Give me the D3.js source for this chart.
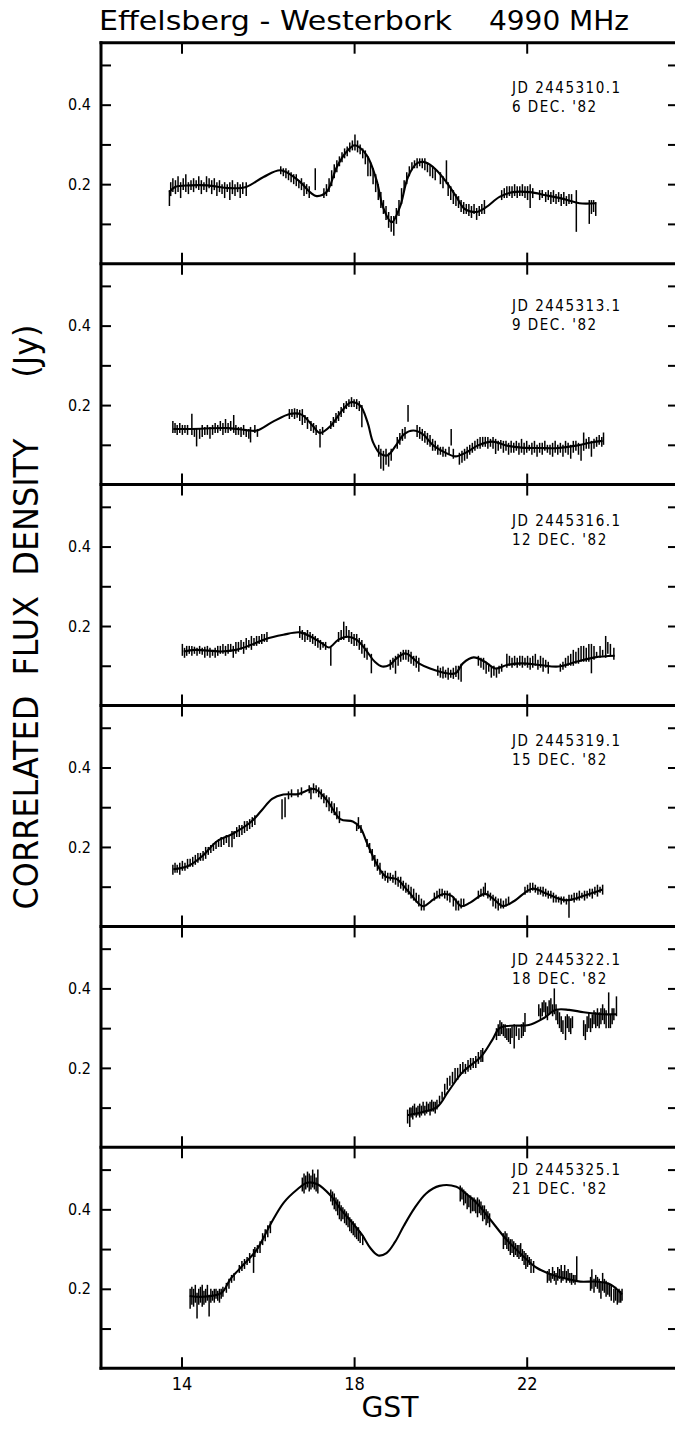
<!DOCTYPE html>
<html>
<head>
<meta charset="utf-8">
<script src="https://d3js.org/d3.v7.min.js"></script>
<style>
body { margin: 0; background: #fff; }
text { fill: #000; }
</style>
</head>
<body>
<div id="chart"></div>
<script>
// tick values
var hourTicks = [14, 18, 22];
var fluxTicks = [0.1, 0.2, 0.3, 0.4, 0.5];
var fluxLabels = [0.2, 0.4];

// panel captions
var julianDays = ["JD 2445310.1", "JD 2445313.1", "JD 2445316.1", "JD 2445319.1", "JD 2445322.1", "JD 2445325.1"];
var dates = ["6 DEC. '82", "9 DEC. '82", "12 DEC. '82", "15 DEC. '82", "18 DEC. '82", "21 DEC. '82"];

// smooth model curves  [GST hour, Jy]
var model1 = [[13.72,0.18],[13.85,0.193],[14.2,0.197],[14.6,0.197],[15.1,0.19],[15.5,0.193],[15.9,0.218],[16.3,0.235],[16.7,0.21],[17.0,0.178],[17.13,0.17],[17.36,0.18],[17.6,0.243],[17.82,0.281],[18.02,0.298],[18.29,0.273],[18.52,0.21],[18.67,0.142],[18.87,0.104],[19.06,0.142],[19.25,0.218],[19.45,0.252],[19.6,0.256],[19.75,0.25],[19.91,0.235],[20.14,0.205],[20.37,0.168],[20.56,0.138],[20.83,0.13],[21.06,0.142],[21.37,0.168],[21.68,0.18],[22.07,0.18],[22.45,0.172],[22.92,0.161],[23.22,0.152],[23.61,0.152]];
var model2 = [[13.81,0.14],[14.24,0.14],[15.09,0.142],[15.5,0.137],[15.75,0.136],[16.1,0.157],[16.53,0.178],[16.78,0.176],[17.04,0.148],[17.21,0.13],[17.46,0.148],[17.72,0.186],[17.93,0.207],[18.14,0.199],[18.31,0.157],[18.44,0.106],[18.61,0.077],[18.78,0.074],[18.99,0.102],[19.16,0.127],[19.37,0.136],[19.59,0.127],[19.84,0.098],[20.1,0.081],[20.35,0.071],[20.6,0.081],[20.86,0.098],[21.2,0.108],[21.54,0.098],[21.88,0.093],[22.3,0.092],[22.73,0.092],[23.15,0.098],[23.49,0.106],[23.76,0.11]];
var model3 = [[14.05,0.136],[14.32,0.14],[14.92,0.136],[15.26,0.14],[15.6,0.152],[15.94,0.167],[16.36,0.178],[16.74,0.184],[17.0,0.173],[17.25,0.157],[17.42,0.146],[17.63,0.165],[17.85,0.173],[18.06,0.165],[18.27,0.14],[18.48,0.11],[18.65,0.098],[18.82,0.102],[18.99,0.119],[19.2,0.131],[19.5,0.106],[19.76,0.093],[20.1,0.082],[20.35,0.081],[20.52,0.106],[20.77,0.121],[21.03,0.11],[21.28,0.093],[21.54,0.102],[21.88,0.106],[22.3,0.102],[22.73,0.098],[23.15,0.11],[23.58,0.121],[24.04,0.125]];
var model4 = [[13.81,0.144],[14.15,0.152],[14.49,0.178],[14.83,0.215],[15.17,0.232],[15.6,0.262],[15.85,0.291],[16.1,0.321],[16.36,0.332],[16.7,0.333],[17.08,0.346],[17.38,0.316],[17.68,0.27],[17.97,0.264],[18.14,0.249],[18.31,0.207],[18.57,0.148],[18.74,0.125],[18.99,0.119],[19.25,0.089],[19.59,0.051],[19.84,0.068],[20.05,0.081],[20.26,0.077],[20.48,0.051],[20.69,0.06],[21.03,0.082],[21.24,0.068],[21.45,0.051],[21.71,0.064],[22.13,0.095],[22.47,0.082],[22.9,0.066],[23.32,0.077],[23.76,0.093]];
var model5 = [[19.23,0.081],[19.59,0.089],[19.93,0.102],[20.18,0.14],[20.52,0.19],[20.94,0.228],[21.2,0.27],[21.37,0.3],[21.62,0.306],[22.05,0.308],[22.39,0.325],[22.68,0.346],[22.98,0.346],[23.32,0.34],[23.75,0.335],[24.07,0.335]];
var model6 = [[14.19,0.182],[14.5,0.18],[14.93,0.19],[15.13,0.224],[15.44,0.261],[15.75,0.299],[16.06,0.362],[16.37,0.417],[16.68,0.45],[16.91,0.467],[17.15,0.463],[17.46,0.434],[17.69,0.4],[17.92,0.371],[18.19,0.335],[18.38,0.302],[18.56,0.284],[18.75,0.29],[18.95,0.318],[19.15,0.358],[19.4,0.403],[19.67,0.44],[19.98,0.459],[20.37,0.457],[20.52,0.446],[20.83,0.417],[21.15,0.375],[21.53,0.324],[21.92,0.282],[22.23,0.253],[22.62,0.234],[22.93,0.225],[23.24,0.218],[23.63,0.218],[23.94,0.211],[24.21,0.186]];

// measured points as error bars  [GST hour, low Jy, high Jy]
var obs1 = [[13.72,0.145,0.185],[13.75,0.17,0.205],[13.8,0.18,0.215],[13.86,0.175,0.21],[13.92,0.18,0.22],[13.98,0.165,0.205],[14.04,0.185,0.215],[14.1,0.18,0.225],[14.16,0.175,0.205],[14.22,0.185,0.21],[14.28,0.18,0.215],[14.34,0.19,0.21],[14.4,0.185,0.22],[14.46,0.175,0.21],[14.52,0.185,0.205],[14.58,0.18,0.22],[14.64,0.19,0.215],[14.7,0.175,0.21],[14.76,0.185,0.215],[14.82,0.17,0.205],[14.88,0.18,0.21],[14.94,0.175,0.2],[15.0,0.165,0.205],[15.06,0.18,0.2],[15.12,0.16,0.205],[15.18,0.175,0.21],[15.24,0.17,0.2],[15.3,0.18,0.205],[15.36,0.165,0.2],[15.42,0.175,0.205],[15.5,0.17,0.205],
  [16.3,0.225,0.245],[16.36,0.22,0.24],[16.42,0.215,0.24],[16.48,0.21,0.235],[16.54,0.205,0.23],[16.6,0.2,0.225],[16.66,0.195,0.225],[16.72,0.19,0.21],[16.78,0.185,0.215],[16.84,0.17,0.205],[16.9,0.175,0.2],[16.96,0.165,0.195],[17.1,0.185,0.24],
  [17.3,0.165,0.19],[17.36,0.17,0.2],[17.42,0.18,0.215],[17.48,0.195,0.235],[17.54,0.215,0.25],[17.6,0.23,0.26],[17.66,0.245,0.27],[17.72,0.255,0.28],[17.78,0.265,0.29],[17.84,0.27,0.295],[17.9,0.28,0.305],[17.96,0.285,0.31],[18.02,0.285,0.325],[18.08,0.28,0.31],[18.14,0.275,0.3],[18.2,0.265,0.29],[18.26,0.25,0.285],[18.32,0.22,0.27],[18.38,0.22,0.255],[18.44,0.2,0.24],[18.5,0.18,0.225],[18.56,0.16,0.2],[18.62,0.14,0.18],[18.68,0.125,0.16],[18.74,0.11,0.145],[18.8,0.09,0.13],[18.86,0.08,0.12],[18.92,0.07,0.12],
  [18.98,0.1,0.14],[19.04,0.12,0.16],[19.1,0.15,0.19],[19.16,0.18,0.21],[19.22,0.2,0.23],[19.28,0.22,0.245],[19.34,0.235,0.255],[19.4,0.24,0.26],[19.46,0.24,0.265],[19.52,0.245,0.265],[19.58,0.24,0.265],[19.64,0.235,0.265],[19.7,0.23,0.255],[19.76,0.22,0.25],[19.82,0.215,0.245],[19.88,0.21,0.24],[20.0,0.2,0.23],[20.06,0.19,0.22],[20.14,0.2,0.26],[20.18,0.17,0.205],[20.24,0.16,0.195],[20.3,0.15,0.185],[20.36,0.145,0.175],[20.42,0.14,0.17],[20.48,0.13,0.16],[20.54,0.125,0.155],[20.6,0.125,0.15],[20.66,0.12,0.15],[20.72,0.115,0.145],[20.78,0.125,0.15],[20.84,0.11,0.14],[20.9,0.12,0.145],[20.96,0.125,0.15],[21.02,0.125,0.16],
  [21.42,0.16,0.185],[21.48,0.165,0.19],[21.54,0.165,0.195],[21.6,0.17,0.195],[21.66,0.165,0.195],[21.72,0.17,0.2],[21.78,0.165,0.195],[21.84,0.17,0.195],[21.9,0.17,0.2],[21.96,0.165,0.195],[22.02,0.16,0.195],[22.08,0.14,0.2],[22.14,0.165,0.19],[22.3,0.16,0.185],[22.36,0.165,0.185],[22.44,0.155,0.18],[22.5,0.16,0.185],[22.56,0.15,0.18],[22.62,0.155,0.185],[22.68,0.15,0.175],[22.74,0.155,0.18],[22.8,0.145,0.175],[22.86,0.15,0.18],[22.92,0.145,0.17],[22.98,0.15,0.175],[23.04,0.15,0.175],[23.15,0.08,0.185],
  [23.45,0.1,0.16],[23.5,0.125,0.16],[23.55,0.13,0.16],[23.6,0.12,0.155]];
var obs2 = [[13.8,0.13,0.16],[13.85,0.13,0.155],[13.9,0.125,0.15],[13.96,0.13,0.155],[14.02,0.125,0.15],[14.08,0.13,0.15],[14.14,0.125,0.15],[14.24,0.125,0.178],[14.3,0.12,0.14],[14.35,0.096,0.14],[14.42,0.115,0.14],[14.48,0.12,0.15],[14.54,0.125,0.145],[14.6,0.125,0.15],[14.66,0.115,0.145],[14.72,0.125,0.15],[14.78,0.13,0.155],[14.84,0.13,0.15],[14.9,0.135,0.16],[14.96,0.125,0.155],[15.02,0.13,0.165],[15.08,0.13,0.155],[15.14,0.135,0.16],[15.21,0.13,0.175],[15.26,0.125,0.15],[15.32,0.125,0.145],[15.38,0.12,0.145],[15.44,0.125,0.15],[15.5,0.12,0.14],[15.56,0.115,0.14],[15.6,0.106,0.145],[15.7,0.13,0.15],[15.76,0.12,0.14],
  [16.5,0.165,0.19],[16.56,0.17,0.19],[16.62,0.165,0.192],[16.68,0.168,0.19],[16.74,0.16,0.188],[16.8,0.15,0.19],[16.86,0.155,0.175],[16.92,0.14,0.17],
  [17.0,0.135,0.16],[17.06,0.13,0.155],[17.12,0.125,0.15],[17.21,0.093,0.14],[17.27,0.125,0.145],
  [17.46,0.14,0.16],[17.52,0.145,0.17],[17.58,0.155,0.18],[17.64,0.16,0.185],[17.7,0.17,0.195],[17.76,0.18,0.205],[17.82,0.19,0.21],[17.88,0.195,0.215],[17.94,0.195,0.22],[18.0,0.195,0.215],[18.06,0.19,0.215],[18.12,0.185,0.21],[18.18,0.144,0.2],
  [18.57,0.07,0.1],[18.62,0.04,0.09],[18.68,0.035,0.085],[18.74,0.05,0.09],[18.8,0.045,0.08],[18.86,0.06,0.09],
  [19.0,0.09,0.12],[19.06,0.1,0.13],[19.12,0.11,0.14],[19.18,0.115,0.145],[19.25,0.158,0.2],
  [19.46,0.12,0.15],[19.52,0.115,0.145],[19.58,0.11,0.14],[19.64,0.105,0.135],[19.7,0.1,0.13],[19.76,0.095,0.125],[19.82,0.085,0.115],[19.88,0.085,0.11],[19.94,0.075,0.1],[20.0,0.075,0.095],[20.06,0.07,0.095],[20.12,0.07,0.09],[20.2,0.075,0.095],[20.25,0.098,0.14],[20.3,0.065,0.09],[20.44,0.05,0.08],[20.5,0.055,0.085],[20.56,0.06,0.09],[20.62,0.065,0.095],[20.68,0.075,0.1],[20.74,0.08,0.105],[20.8,0.085,0.11],[20.86,0.09,0.115],[20.92,0.09,0.12],[20.98,0.095,0.12],
  [21.04,0.095,0.12],[21.1,0.09,0.12],[21.16,0.095,0.115],[21.22,0.09,0.12],[21.28,0.077,0.115],[21.34,0.085,0.11],[21.4,0.09,0.112],[21.46,0.08,0.11],[21.52,0.085,0.11],[21.58,0.075,0.105],[21.64,0.08,0.11],[21.7,0.08,0.105],[21.76,0.085,0.11],[21.82,0.075,0.105],[21.88,0.08,0.115],[21.94,0.075,0.105],[22.0,0.08,0.11],[22.06,0.085,0.1],[22.12,0.075,0.105],[22.18,0.08,0.11],[22.24,0.07,0.1],[22.3,0.08,0.105],[22.36,0.075,0.105],[22.42,0.085,0.11],[22.48,0.08,0.1],[22.54,0.075,0.1],[22.6,0.07,0.105],[22.66,0.08,0.11],[22.72,0.075,0.1],[22.78,0.08,0.105],[22.84,0.07,0.1],[22.9,0.08,0.11],[22.96,0.075,0.105],[23.02,0.065,0.1],[23.08,0.08,0.11],[23.14,0.085,0.11],[23.2,0.075,0.105],[23.26,0.06,0.1],[23.32,0.085,0.131],[23.38,0.09,0.115],[23.44,0.09,0.12],[23.5,0.07,0.11],[23.56,0.09,0.115],[23.62,0.095,0.12],[23.68,0.1,0.125],[23.74,0.095,0.12],[23.78,0.1,0.131]];
var obs3 = [[14.02,0.125,0.155],[14.07,0.12,0.145],[14.12,0.125,0.15],[14.18,0.13,0.15],[14.24,0.125,0.15],[14.3,0.13,0.148],[14.36,0.125,0.145],[14.42,0.13,0.15],[14.48,0.128,0.145],[14.54,0.12,0.148],[14.6,0.125,0.15],[14.66,0.12,0.145],[14.72,0.125,0.14],[14.78,0.12,0.145],[14.84,0.125,0.15],[14.9,0.13,0.15],[14.96,0.13,0.155],[15.02,0.125,0.15],[15.08,0.13,0.155],[15.14,0.135,0.155],[15.2,0.12,0.15],[15.26,0.13,0.16],[15.32,0.135,0.16],[15.38,0.14,0.165],[15.44,0.13,0.16],[15.5,0.14,0.17],[15.56,0.145,0.165],[15.62,0.14,0.175],[15.68,0.15,0.17],[15.74,0.15,0.175],[15.8,0.155,0.175],[15.86,0.155,0.18],[15.92,0.16,0.18],[15.98,0.16,0.185],
  [16.74,0.17,0.2],[16.8,0.165,0.19],[16.86,0.16,0.185],[16.92,0.165,0.19],[16.98,0.16,0.185],[17.04,0.155,0.18],[17.1,0.15,0.175],[17.16,0.145,0.17],[17.22,0.14,0.165],[17.28,0.145,0.16],[17.34,0.14,0.16],[17.46,0.1,0.15],
  [17.64,0.16,0.185],[17.7,0.165,0.19],[17.76,0.165,0.211],[17.82,0.17,0.2],[17.88,0.16,0.19],[17.94,0.155,0.185],[18.0,0.15,0.18],[18.06,0.15,0.18],[18.12,0.14,0.17],[18.18,0.13,0.165],[18.24,0.12,0.155],[18.3,0.115,0.145],[18.4,0.081,0.13],
  [18.84,0.09,0.115],[18.9,0.095,0.12],[18.96,0.08,0.125],[19.02,0.1,0.13],[19.08,0.11,0.135],[19.14,0.115,0.14],[19.2,0.115,0.14],[19.26,0.11,0.14],[19.32,0.105,0.135],[19.38,0.1,0.125],[19.44,0.095,0.125],[19.5,0.085,0.12],
  [19.94,0.075,0.1],[20.0,0.07,0.095],[20.06,0.068,0.098],[20.12,0.07,0.09],[20.18,0.065,0.095],[20.24,0.07,0.09],[20.3,0.067,0.095],[20.36,0.072,0.1],[20.42,0.065,0.1],[20.48,0.06,0.105],
  [20.88,0.1,0.125],[20.94,0.095,0.12],[21.0,0.09,0.12],[21.06,0.08,0.11],[21.12,0.085,0.105],[21.18,0.07,0.1],[21.24,0.075,0.1],[21.3,0.07,0.095],[21.36,0.08,0.1],[21.42,0.085,0.105],
  [21.54,0.095,0.13],[21.6,0.1,0.125],[21.66,0.095,0.12],[21.72,0.1,0.125],[21.78,0.095,0.12],[21.84,0.1,0.125],[21.9,0.095,0.125],[21.96,0.1,0.12],[22.02,0.095,0.125],[22.08,0.09,0.12],[22.14,0.095,0.125],[22.2,0.1,0.13],[22.26,0.09,0.115],[22.32,0.095,0.125],[22.38,0.085,0.12],[22.44,0.095,0.115],[22.5,0.08,0.11],
  [22.78,0.085,0.105],[22.84,0.09,0.11],[22.9,0.095,0.12],[22.96,0.1,0.125],[23.02,0.1,0.13],[23.08,0.1,0.14],[23.14,0.105,0.135],[23.2,0.105,0.145],[23.26,0.11,0.15],[23.32,0.11,0.15],[23.38,0.11,0.145],[23.44,0.11,0.155],[23.5,0.081,0.155],[23.56,0.115,0.15],[23.62,0.12,0.135],[23.7,0.12,0.15],[23.76,0.125,0.14],[23.83,0.12,0.175],[23.88,0.13,0.16],[23.94,0.125,0.155],[24.02,0.115,0.145]];
var obs4 = [[13.8,0.13,0.155],[13.85,0.135,0.16],[13.9,0.135,0.155],[13.96,0.13,0.16],[14.02,0.14,0.165],[14.08,0.14,0.16],[14.14,0.145,0.17],[14.2,0.15,0.17],[14.26,0.15,0.175],[14.32,0.155,0.18],[14.38,0.16,0.185],[14.44,0.165,0.185],[14.5,0.165,0.19],[14.56,0.17,0.2],[14.62,0.18,0.2],[14.68,0.185,0.205],[14.74,0.19,0.21],[14.8,0.195,0.215],[14.86,0.2,0.22],[14.92,0.2,0.225],[14.98,0.205,0.225],[15.04,0.21,0.23],[15.1,0.2,0.23],[15.17,0.199,0.24],[15.22,0.22,0.24],[15.28,0.225,0.25],[15.34,0.225,0.255],[15.4,0.23,0.255],[15.46,0.235,0.265],[15.52,0.24,0.265],[15.58,0.245,0.27],[15.64,0.25,0.275],[15.7,0.255,0.28],
  [16.33,0.27,0.32],[16.4,0.275,0.325],[16.48,0.32,0.34],[16.55,0.325,0.345],[16.7,0.325,0.345],[16.78,0.33,0.35],
  [16.96,0.335,0.355],[17.0,0.32,0.35],[17.06,0.335,0.36],[17.12,0.335,0.355],[17.18,0.325,0.35],[17.24,0.32,0.345],[17.3,0.31,0.335],[17.36,0.3,0.33],[17.42,0.29,0.325],[17.48,0.285,0.315],[17.54,0.28,0.31],[17.6,0.27,0.3],[17.66,0.26,0.29],
  [18.06,0.24,0.26],[18.1,0.245,0.275],[18.16,0.235,0.255],
  [18.3,0.2,0.22],[18.36,0.185,0.21],[18.42,0.165,0.195],[18.48,0.15,0.18],[18.54,0.14,0.17],[18.6,0.13,0.16],[18.66,0.12,0.14],[18.72,0.115,0.14],[18.78,0.11,0.135],[18.84,0.115,0.135],[18.9,0.11,0.13],[18.96,0.105,0.14],[19.02,0.1,0.125],[19.08,0.095,0.125],[19.14,0.09,0.115],[19.2,0.085,0.11],[19.26,0.08,0.105],[19.32,0.07,0.1],[19.38,0.065,0.095],[19.44,0.06,0.085],[19.5,0.05,0.08],[19.56,0.04,0.07],[19.62,0.04,0.065],
  [19.86,0.065,0.085],[19.92,0.07,0.09],[19.98,0.07,0.095],[20.04,0.075,0.095],[20.1,0.07,0.09],[20.16,0.065,0.09],[20.22,0.06,0.085],[20.3,0.05,0.075],[20.36,0.04,0.07],[20.42,0.04,0.065],[20.48,0.045,0.07],[20.54,0.05,0.07],
  [20.88,0.07,0.09],[20.94,0.075,0.095],[21.0,0.075,0.1],[21.04,0.08,0.11],[21.1,0.07,0.09],[21.16,0.065,0.085],[21.22,0.05,0.08],[21.28,0.045,0.075],[21.34,0.04,0.07],[21.4,0.045,0.07],[21.46,0.045,0.065],[21.52,0.05,0.07],[21.58,0.055,0.075],
  [21.96,0.08,0.1],[22.02,0.085,0.105],[22.08,0.085,0.11],[22.14,0.09,0.11],[22.2,0.085,0.105],[22.26,0.08,0.1],[22.32,0.08,0.1],[22.38,0.075,0.1],[22.44,0.075,0.095],[22.5,0.07,0.09],[22.56,0.07,0.09],[22.62,0.06,0.085],[22.68,0.06,0.08],[22.74,0.06,0.075],[22.8,0.055,0.075],[22.86,0.06,0.075],[22.92,0.055,0.07],[22.98,0.022,0.08],[23.04,0.065,0.08],[23.1,0.06,0.085],[23.16,0.065,0.085],[23.22,0.065,0.09],[23.28,0.07,0.085],[23.34,0.065,0.09],[23.4,0.07,0.09],[23.46,0.075,0.095],[23.52,0.07,0.095],[23.58,0.08,0.1],[23.64,0.075,0.105],[23.7,0.085,0.1],[23.76,0.08,0.105]];
var obs5 = [[19.24,0.06,0.095],[19.29,0.051,0.1],[19.32,0.075,0.1],[19.36,0.07,0.105],[19.4,0.08,0.11],[19.44,0.075,0.1],[19.48,0.08,0.105],[19.52,0.075,0.11],[19.56,0.08,0.105],[19.6,0.085,0.115],[19.64,0.08,0.105],[19.68,0.085,0.115],[19.72,0.09,0.11],[19.76,0.08,0.115],[19.8,0.09,0.12],[19.84,0.09,0.115],[19.88,0.085,0.115],[19.92,0.095,0.12],[19.98,0.11,0.13],[20.04,0.12,0.14],[20.1,0.13,0.16],[20.16,0.145,0.175],[20.22,0.155,0.18],[20.28,0.16,0.19],[20.34,0.165,0.2],[20.4,0.17,0.2],[20.46,0.18,0.21],[20.52,0.185,0.215],[20.58,0.185,0.21],[20.64,0.19,0.22],[20.7,0.195,0.225],[20.76,0.2,0.225],[20.82,0.2,0.23],[20.88,0.21,0.24],[20.94,0.215,0.245],[20.98,0.215,0.25],
  [21.3,0.27,0.3],[21.34,0.28,0.31],[21.38,0.28,0.32],[21.42,0.285,0.315],[21.46,0.28,0.31],[21.5,0.275,0.31],[21.54,0.27,0.3],[21.58,0.265,0.3],[21.62,0.26,0.3],[21.66,0.275,0.305],[21.71,0.249,0.31],[21.76,0.28,0.305],[21.82,0.27,0.3],[21.88,0.275,0.31],[21.92,0.28,0.315],[21.96,0.29,0.338],
  [22.28,0.33,0.36],[22.32,0.32,0.35],[22.36,0.33,0.365],[22.4,0.34,0.37],[22.44,0.33,0.365],[22.48,0.32,0.355],[22.52,0.335,0.37],[22.56,0.34,0.375],[22.6,0.33,0.36],[22.64,0.335,0.4],[22.68,0.32,0.36],[22.72,0.31,0.345],[22.76,0.3,0.34],[22.8,0.29,0.33],[22.84,0.285,0.32],[22.9,0.27,0.33],[22.94,0.3,0.335],[22.98,0.29,0.33],[23.02,0.285,0.325],[23.06,0.3,0.33],
  [23.32,0.28,0.32],[23.36,0.27,0.31],[23.4,0.29,0.33],[23.44,0.3,0.34],[23.48,0.29,0.325],[23.52,0.3,0.335],[23.56,0.31,0.345],[23.6,0.3,0.34],[23.64,0.305,0.35],[23.68,0.3,0.34],[23.72,0.31,0.35],[23.76,0.32,0.36],[23.8,0.31,0.35],[23.84,0.3,0.345],[23.9,0.3,0.39],[23.94,0.3,0.335],[23.98,0.31,0.35],[24.02,0.32,0.35],[24.08,0.33,0.38]];
var obs6 = [[14.2,0.15,0.2],[14.24,0.16,0.205],[14.28,0.155,0.2],[14.32,0.165,0.21],[14.36,0.125,0.19],[14.4,0.16,0.2],[14.44,0.165,0.205],[14.48,0.155,0.21],[14.52,0.16,0.195],[14.56,0.165,0.2],[14.6,0.17,0.21],[14.64,0.13,0.185],[14.68,0.165,0.2],[14.72,0.17,0.195],[14.76,0.165,0.2],[14.8,0.175,0.2],[14.84,0.17,0.195],[14.88,0.165,0.2],[14.92,0.175,0.2],[14.96,0.18,0.205],
  [15.04,0.19,0.215],[15.1,0.2,0.225],[15.16,0.215,0.235],[15.22,0.22,0.24],[15.34,0.24,0.26],[15.4,0.245,0.27],[15.46,0.25,0.275],[15.52,0.26,0.28],[15.58,0.265,0.29],[15.67,0.24,0.3],[15.7,0.28,0.305],[15.76,0.29,0.31],[15.82,0.29,0.32],[15.88,0.31,0.34],[15.94,0.32,0.35],[16.0,0.33,0.36],[16.06,0.34,0.37],
  [16.8,0.445,0.48],[16.84,0.44,0.49],[16.88,0.45,0.485],[16.92,0.455,0.495],[16.96,0.445,0.49],[17.0,0.45,0.485],[17.04,0.455,0.5],[17.08,0.45,0.49],[17.12,0.445,0.48],[17.16,0.44,0.5],
  [17.46,0.42,0.45],[17.5,0.41,0.445],[17.54,0.4,0.44],[17.58,0.395,0.43],[17.62,0.385,0.425],[17.66,0.375,0.42],[17.7,0.37,0.41],[17.74,0.375,0.405],[17.78,0.365,0.4],[17.82,0.36,0.395],[17.86,0.355,0.39],[17.9,0.345,0.38],[17.94,0.34,0.375],[17.98,0.335,0.37],[18.02,0.33,0.365],[18.06,0.325,0.355],[18.1,0.32,0.355],[18.14,0.315,0.345],[18.2,0.31,0.335],
  [20.46,0.42,0.46],[20.5,0.425,0.455],[20.54,0.41,0.45],[20.58,0.415,0.445],[20.62,0.4,0.44],[20.66,0.405,0.435],[20.7,0.39,0.435],[20.74,0.395,0.43],[20.78,0.395,0.43],[20.82,0.39,0.425],[20.86,0.38,0.43],[20.9,0.39,0.425],[20.94,0.385,0.42],[20.98,0.37,0.41],[21.02,0.375,0.41],[21.06,0.36,0.4],[21.1,0.365,0.395],[21.14,0.355,0.39],
  [21.46,0.3,0.34],[21.5,0.31,0.345],[21.54,0.3,0.34],[21.58,0.295,0.33],[21.62,0.285,0.325],[21.66,0.29,0.325],[21.7,0.28,0.32],[21.74,0.285,0.315],[21.78,0.28,0.31],[21.82,0.275,0.31],[21.86,0.28,0.315],[21.9,0.27,0.3],[21.94,0.26,0.295],[21.98,0.25,0.29],[22.02,0.255,0.285],[22.06,0.26,0.28],[22.1,0.24,0.275],[22.16,0.24,0.27],
  [22.48,0.215,0.245],[22.52,0.22,0.25],[22.56,0.215,0.24],[22.6,0.225,0.255],[22.64,0.22,0.245],[22.68,0.21,0.24],[22.72,0.22,0.255],[22.76,0.225,0.25],[22.8,0.215,0.26],[22.84,0.22,0.245],[22.88,0.225,0.26],[22.92,0.215,0.245],[22.96,0.22,0.25],[23.0,0.215,0.24],[23.04,0.21,0.24],[23.08,0.215,0.235],[23.12,0.21,0.235],[23.16,0.22,0.282],
  [23.48,0.195,0.23],[23.51,0.2,0.249],[23.56,0.19,0.225],[23.6,0.205,0.235],[23.64,0.2,0.23],[23.68,0.19,0.225],[23.72,0.175,0.215],[23.76,0.195,0.24],[23.8,0.19,0.225],[23.84,0.18,0.22],[23.88,0.185,0.215],[23.92,0.18,0.21],[23.96,0.17,0.21],[24.02,0.165,0.2],[24.06,0.17,0.205],[24.1,0.16,0.195],[24.14,0.165,0.2],[24.18,0.165,0.195],[24.21,0.17,0.2]];

var models = [model1, model2, model3, model4, model5, model6];
var observations = [obs1, obs2, obs3, obs4, obs5, obs6];

// captions sit a little differently in each panel
var captionDrop = [50, 47, 41, 41, 39, 28];

var svg = d3.select("#chart").append("svg").attr("width", 675).attr("height", 1431)

var left = 101, right = 679;
var top0 = 42.7, panelH = 220.93;
var narrow = "'DejaVu Sans Condensed','Roboto Condensed','Liberation Sans Narrow','DejaVu Sans',sans-serif";

var x = d3.scaleLinear().domain([14, 22]).range([181.5, 526.7]);

var curveLine = d3.line().curve(d3.curveCatmullRom.alpha(0.5));

for (var i = 0; i < models.length; i++) {
    var panelTop = top0 + i * panelH;
    var panelBottom = panelTop + panelH;
    var y = d3.scaleLinear().domain([0, 0.556]).range([panelBottom, panelTop]);
    var panel = svg.append("g");

    // error bars
    panel.selectAll("line.bar").data(observations[i]).enter().append("line")
        .attr("class", "bar")
        .attr("x1", d => x(d[0])).attr("x2", d => x(d[0]))
        .attr("y1", d => y(d[1])).attr("y2", d => y(d[2]))
        .attr("stroke", "#000").attr("stroke-width", 1.5);

    // model curve
    curveLine.x(d => x(d[0])).y(d => y(d[1]));
    panel.append("path").datum(models[i])
        .attr("d", curveLine)
        .attr("fill", "none").attr("stroke", "#000").attr("stroke-width", 2.1);

    // left axis with the two labels
    var yl = panel.append("g").attr("transform", "translate(" + left + ",0)")
        .call(d3.axisLeft(y).tickValues(fluxTicks).tickSize(-10).tickPadding(10)
            .tickFormat(d => fluxLabels.indexOf(d) >= 0 ? d3.format(".1f")(d) : ""));
    yl.selectAll("text").attr("font-family", narrow).attr("font-size", 16);

    // right axis ticks only
    panel.append("g").attr("transform", "translate(" + right + ",0)")
        .call(d3.axisRight(y).tickValues(fluxTicks).tickSize(-11).tickFormat(""));

    // hour ticks on top and bottom of each panel
    panel.append("g").attr("transform", "translate(0," + panelTop + ")")
        .call(d3.axisTop(x).tickValues(hourTicks).tickSize(-11).tickFormat(""));
    var xb = panel.append("g").attr("transform", "translate(0," + panelBottom + ")")
        .call(d3.axisBottom(x).tickValues(hourTicks).tickSize(-11).tickPadding(9)
            .tickFormat(i == models.length - 1 ? d3.format("d") : ""));
    xb.selectAll("text").attr("font-family", narrow).attr("font-size", 18);

    // caption
    panel.append("text").attr("x", 512).attr("y", panelTop + captionDrop[i])
        .attr("font-family", narrow).attr("font-size", 15).attr("letter-spacing", 1.5)
        .text(julianDays[i]);
    panel.append("text").attr("x", 512).attr("y", panelTop + captionDrop[i] + 19)
        .attr("font-family", narrow).attr("font-size", 15).attr("letter-spacing", 1.5)
        .text(dates[i]);

    // horizontal frame line at the top of the panel
    panel.append("line").attr("x1", left - 1.5).attr("x2", right).attr("y1", panelTop).attr("y2", panelTop)
        .attr("stroke", "#000").attr("stroke-width", 3);
}

svg.selectAll(".domain").remove();
svg.selectAll(".tick line").attr("stroke", "#000").attr("stroke-width", 2);

// outer frame
var frameBottom = top0 + models.length * panelH;
svg.append("line").attr("x1", left - 1.5).attr("x2", right).attr("y1", frameBottom).attr("y2", frameBottom)
    .attr("stroke", "#000").attr("stroke-width", 3);
svg.append("line").attr("x1", left).attr("x2", left).attr("y1", top0 - 1.5).attr("y2", frameBottom + 1.5)
    .attr("stroke", "#000").attr("stroke-width", 3);
svg.append("line").attr("x1", right).attr("x2", right).attr("y1", top0).attr("y2", frameBottom)
    .attr("stroke", "#000").attr("stroke-width", 3);

// title
svg.append("text").attr("x", 99).attr("y", 29.5)
    .attr("font-family", narrow).attr("font-size", 27)
    .attr("textLength", 353).attr("lengthAdjust", "spacingAndGlyphs")
    .text("Effelsberg - Westerbork");
svg.append("text").attr("x", 489).attr("y", 29.5)
    .attr("font-family", narrow).attr("font-size", 27)
    .attr("textLength", 140).attr("lengthAdjust", "spacingAndGlyphs")
    .text("4990 MHz");

// axis titles
svg.append("text").attr("transform", "translate(38,617) rotate(-90)")
    .attr("text-anchor", "middle")
    .attr("font-family", narrow).attr("font-size", 33)
    .attr("textLength", 585).attr("lengthAdjust", "spacingAndGlyphs")
    .attr("xml:space", "preserve")
    .text("CORRELATED  FLUX  DENSITY      (Jy)");
svg.append("text").attr("x", 390).attr("y", 1417)
    .attr("text-anchor", "middle")
    .attr("font-family", narrow).attr("font-size", 28)
    .attr("textLength", 57).attr("lengthAdjust", "spacingAndGlyphs")
    .text("GST");
</script>
</body>
</html>
